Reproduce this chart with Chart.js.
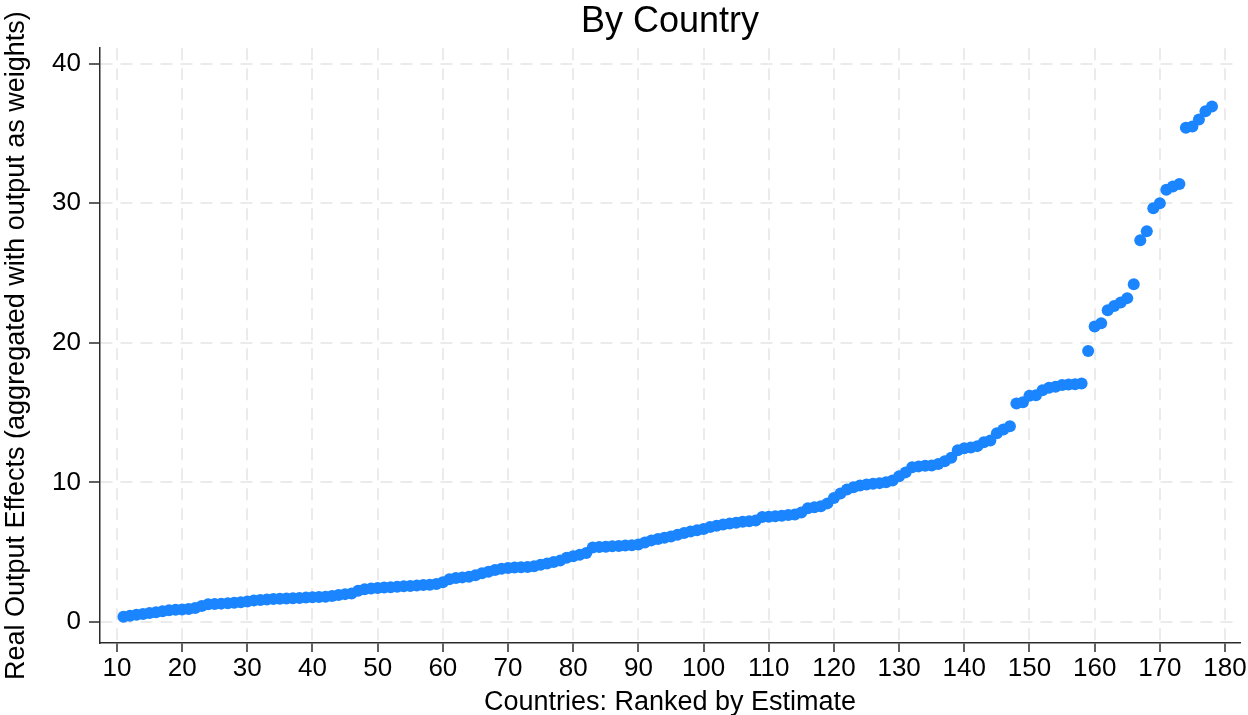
<!DOCTYPE html>
<html>
<head>
<meta charset="utf-8">
<title>By Country</title>
<script src="https://cdn.jsdelivr.net/npm/chart.js@4"></script>
<style>
  html, body { margin: 0; padding: 0; background: #ffffff; }
  #wrap { width: 1248px; height: 715px; position: relative; }
</style>
</head>
<body>
<div id="wrap"><canvas id="chart" width="1248" height="715"></canvas></div>
<script>
// Country rank (x) and estimated real output effect (y), sorted by estimate
const ranks = [
  11, 12, 13, 14, 15, 16, 17, 18, 19, 20,
  21, 22, 23, 24, 25, 26, 27, 28, 29, 30,
  31, 32, 33, 34, 35, 36, 37, 38, 39, 40,
  41, 42, 43, 44, 45, 46, 47, 48, 49, 50,
  51, 52, 53, 54, 55, 56, 57, 58, 59, 60,
  61, 62, 63, 64, 65, 66, 67, 68, 69, 70,
  71, 72, 73, 74, 75, 76, 77, 78, 79, 80,
  81, 82, 83, 84, 85, 86, 87, 88, 89, 90,
  91, 92, 93, 94, 95, 96, 97, 98, 99, 100,
  101, 102, 103, 104, 105, 106, 107, 108, 109, 110,
  111, 112, 113, 114, 115, 116, 117, 118, 119, 120,
  121, 122, 123, 124, 125, 126, 127, 128, 129, 130,
  131, 132, 133, 134, 135, 136, 137, 138, 139, 140,
  141, 142, 143, 144, 145, 146, 147, 148, 149, 150,
  151, 152, 153, 154, 155, 156, 157, 158, 159, 160,
  161, 162, 163, 164, 165, 166, 167, 168, 169, 170,
  171, 172, 173, 174, 175, 176, 177, 178
];

const effects = [
  0.38, 0.45, 0.52, 0.58, 0.65, 0.70, 0.78, 0.84, 0.88, 0.90,
  0.93, 1.00, 1.15, 1.27, 1.30, 1.32, 1.35, 1.38, 1.42, 1.48,
  1.55, 1.58, 1.62, 1.65, 1.67, 1.69, 1.71, 1.73, 1.75, 1.77,
  1.80, 1.82, 1.86, 1.94, 2.00, 2.05, 2.25, 2.35, 2.40, 2.44,
  2.47, 2.50, 2.53, 2.56, 2.59, 2.62, 2.65, 2.67, 2.72, 2.85,
  3.07, 3.15, 3.20, 3.25, 3.35, 3.50, 3.60, 3.72, 3.82, 3.87,
  3.90, 3.92, 3.95, 4.00, 4.10, 4.20, 4.30, 4.40, 4.60, 4.72,
  4.82, 4.95, 5.34, 5.38, 5.40, 5.43, 5.45, 5.48, 5.50, 5.55,
  5.70, 5.85, 5.95, 6.03, 6.13, 6.25, 6.38, 6.48, 6.58, 6.66,
  6.80, 6.90, 6.98, 7.05, 7.12, 7.18, 7.22, 7.28, 7.52, 7.55,
  7.58, 7.62, 7.66, 7.70, 7.85, 8.15, 8.22, 8.30, 8.50, 8.88,
  9.20, 9.50, 9.65, 9.78, 9.85, 9.90, 9.95, 10.02, 10.13, 10.45,
  10.72, 11.08, 11.15, 11.20, 11.22, 11.32, 11.51, 11.76, 12.30, 12.45,
  12.50, 12.60, 12.88, 13.00, 13.52, 13.79, 14.03, 15.66, 15.75, 16.20,
  16.25, 16.60, 16.78, 16.85, 16.97, 17.02, 17.04, 17.09, 19.41, 21.16,
  21.40, 22.33, 22.64, 22.89, 23.20, 24.20, 27.34, 27.99, 29.64, 30.00,
  30.97, 31.19, 31.38, 35.40, 35.50, 36.00, 36.58, 36.93
];

const xTicks = [10, 20, 30, 40, 50, 60, 70, 80, 90, 100, 110, 120, 130, 140, 150, 160, 170, 180];
const yTicks = [0, 10, 20, 30, 40];

const titleText = 'By Country';
const xTitle = 'Countries: Ranked by Estimate';
const yTitle = 'Real Output Effects (aggregated with output as weights)';

const points = ranks.map((r, i) => ({ x: r, y: effects[i] }));

const FONT = "'Liberation Sans', Arial, Helvetica, sans-serif";
const GRID = '#ebebeb';
const AXIS = '#2b2b2b';

new Chart(document.getElementById('chart'), {
  type: 'scatter',
  data: {
    datasets: [{
      data: points,
      backgroundColor: '#1a85ff',
      borderWidth: 0,
      pointRadius: 6,
      pointHoverRadius: 6
    }]
  },
  options: {
    responsive: false,
    animation: false,
    events: [],
    layout: { padding: { left: 0, right: 8, top: 0, bottom: 0 } },
    plugins: {
      legend: { display: false },
      tooltip: { enabled: false },
      title: {
        display: true,
        text: titleText,
        fullSize: false,
        color: '#000000',
        font: { family: FONT, size: 36, weight: 'normal', lineHeight: 1.2 },
        padding: { top: 0, bottom: 5 }
      }
    },
    scales: {
      x: {
        type: 'linear',
        min: 7.4,
        max: 182.3,
        afterBuildTicks: (axis) => { axis.ticks = xTicks.map(v => ({ value: v })); },
        afterFit: (axis) => { axis.height = 72; },
        ticks: {
          includeBounds: false,
          autoSkip: false,
          maxRotation: 0,
          color: '#000000',
          padding: 1,
          font: { family: FONT, size: 26 }
        },
        grid: {
          color: GRID,
          lineWidth: 2,
          drawTicks: true,
          tickLength: 9,
          tickColor: AXIS,
          tickWidth: 1.5
        },
        border: { display: true, color: AXIS, width: 1.5, dash: [12, 8] },
        title: {
          display: true,
          text: xTitle,
          color: '#000000',
          font: { family: FONT, size: 27, lineHeight: 1 },
          padding: { top: 0, bottom: -1 }
        }
      },
      y: {
        type: 'linear',
        min: -1.5,
        max: 41.1,
        afterBuildTicks: (axis) => { axis.ticks = yTicks.map(v => ({ value: v })); },
        afterFit: (axis) => { axis.width = 100; },
        ticks: {
          includeBounds: false,
          color: '#000000',
          padding: 8,
          font: { family: FONT, size: 26 }
        },
        grid: {
          color: GRID,
          lineWidth: 2,
          drawTicks: true,
          tickLength: 11,
          tickColor: AXIS,
          tickWidth: 1.5
        },
        border: { display: true, color: AXIS, width: 1.5, dash: [12, 8] },
        title: {
          display: true,
          text: yTitle,
          color: '#000000',
          font: { family: FONT, size: 27, lineHeight: 1 },
          padding: { top: 3, bottom: 0 }
        }
      }
    }
  }
});
</script>
</body>
</html>
